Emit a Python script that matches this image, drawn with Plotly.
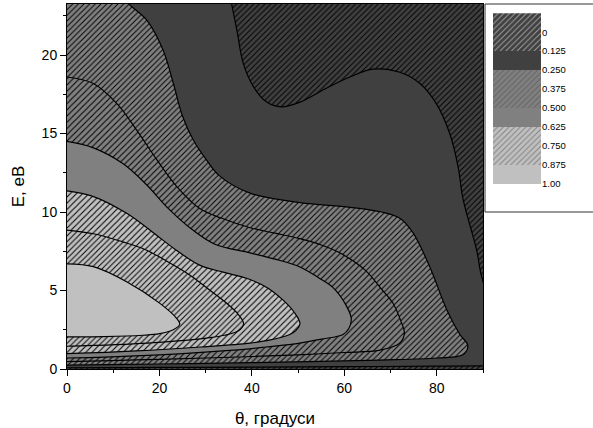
import plotly.graph_objects as go

# ---------------- data ----------------
X_RANGE = [0, 90]
Y_RANGE = [0, 23.25]
X_TICKS = [0, 20, 40, 60, 80]
Y_TICKS = [0, 5, 10, 15, 20]

LEGEND_LABELS = ["0", "0.125", "0.250", "0.375", "0.500", "0.625", "0.750", "0.875", "1.00"]

DARK, MID, LIGHT = "#404040", "#808080", "#c0c0c0"

# contour 0.125 : upper-right branch (from top edge to right edge)
c0125_top_theta = [35.2, 35.6, 36.8, 38.1, 40.3, 43.2, 46.4, 50.4, 56.2, 61.2, 66.2, 72.0, 76.3, 79.9, 82.8, 84.6, 85.7, 88.6, 89.7, 91.0]
c0125_top_E     = [24.0, 23.3, 21.5, 19.5, 18.0, 17.0, 16.7, 17.0, 17.9, 18.6, 19.1, 18.9, 18.2, 16.9, 15.0, 12.9, 10.8, 7.6, 5.9, 4.9]
# contour 0.125 : bottom branch (right to left)
c0125_bot_theta = [92, 80, 60, 40, 20, 0]
c0125_bot_E     = [0.20, 0.18, 0.15, 0.12, 0.10, 0.08]

c0250_theta = [11.5, 13.2, 17.3, 20.8, 23.0, 25.0, 27.3, 30.2, 33.0, 39.6, 50.4, 61.2, 68.0, 72.0, 74.8, 78.5, 82.2, 85.0, 86.7, 85.6, 80.0, 67.7, 40.0, 20.0, 0.0]
c0250_E     = [24.0, 23.3, 22.2, 20.3, 18.2, 16.1, 14.6, 13.3, 12.3, 11.2, 10.6, 10.3, 10.0, 9.6, 8.7, 6.5, 3.75, 2.2, 1.5, 0.9, 0.7, 0.57, 0.4, 0.32, 0.25]

c0375_theta = [0, 5.6, 10.8, 15.1, 19.5, 23.8, 28.8, 33.5, 39.6, 45, 50.4, 55, 59, 64.5, 68, 70.5, 72.3, 73.0, 72.0, 67.7, 60, 50, 30, 15, 0]
c0375_E     = [18.6, 18.2, 16.9, 15.2, 13.3, 11.6, 10.2, 9.6, 9.0, 8.65, 8.3, 7.9, 7.4, 6.3, 5.1, 4.2, 3.0, 2.3, 1.65, 1.2, 1.05, 0.9, 0.7, 0.58, 0.47]

c0500_theta = [0, 5.6, 12, 17, 22, 27, 32, 39.6, 45, 50.4, 54.5, 57.5, 60.3, 61.5, 61.0, 59.7, 55, 50.4, 43, 36, 20, 0]
c0500_E     = [14.5, 14.1, 13.1, 11.8, 10.2, 8.9, 7.95, 7.4, 7.0, 6.5, 5.8, 5.2, 4.1, 3.2, 2.6, 2.2, 1.9, 1.65, 1.4, 1.2, 0.9, 0.7]

c0625_theta = [0, 5.6, 13, 18.6, 23.5, 28.8, 34, 39.6, 43.5, 46.7, 49.2, 50.4, 49.5, 48.2, 44, 39.6, 28.8, 15, 0]
c0625_E     = [11.35, 11.0, 9.9, 8.7, 7.6, 6.6, 6.15, 5.7, 5.15, 4.4, 3.6, 2.9, 2.45, 2.2, 1.85, 1.65, 1.4, 1.15, 0.98]

c0750_theta = [0, 6, 12, 17, 22, 27, 31, 34.5, 37, 38.2, 37.2, 34, 31, 20, 6, 0]
c0750_E     = [8.85, 8.6, 8.1, 7.6, 6.8, 5.9, 5.0, 4.2, 3.5, 2.9, 2.45, 2.15, 2.0, 1.7, 1.5, 1.45]

c0875_theta = [0, 5.7, 12.9, 20.1, 23.7, 24.4, 23.0, 20.0, 16.4, 8, 0]
c0875_E     = [6.7, 6.52, 5.56, 4.18, 3.23, 2.85, 2.5, 2.25, 2.15, 2.06, 2.04]

# ---------------- styling ----------------
PAD = 5
FONT = "Arial, Liberation Sans, sans-serif"


def hatch(bg, size):
    return dict(shape="/", bgcolor=bg, fgcolor="black", size=size, solidity=0.24, fillmode="replace")


def closed_left(th, e):
    xs = list(th) + [X_RANGE[0] - PAD, X_RANGE[0] - PAD]
    ys = list(e) + [e[-1], e[0]]
    return xs, ys


fig = go.Figure()

# background band 0 - 0.125
bx = [X_RANGE[0] - PAD, X_RANGE[1] + PAD, X_RANGE[1] + PAD, X_RANGE[0] - PAD]
by = [Y_RANGE[0] - 1, Y_RANGE[0] - 1, Y_RANGE[1] + PAD, Y_RANGE[1] + PAD]
fig.add_trace(go.Scatter(x=bx, y=by, mode="lines", fill="toself", line=dict(width=0),
                         fillcolor=DARK, fillpattern=hatch(DARK, 4), hoverinfo="skip", showlegend=False))

# superlevel set z > 0.125
xs = list(c0125_top_theta) + [X_RANGE[1] + PAD, X_RANGE[1] + PAD] + list(c0125_bot_theta) + [X_RANGE[0] - PAD, X_RANGE[0] - PAD]
ys = list(c0125_top_E) + [c0125_top_E[-1] - 0.8, c0125_bot_E[0]] + list(c0125_bot_E) + [c0125_bot_E[-1], c0125_top_E[0]]
fig.add_trace(go.Scatter(x=xs, y=ys, mode="lines", fill="toself", fillcolor=DARK,
                         line=dict(color="black", width=1.2, shape="spline", smoothing=1),
                         hoverinfo="skip", showlegend=False))

bands = [
    (c0250_theta, c0250_E, MID, hatch(MID, 4)),
    (c0375_theta, c0375_E, MID, hatch(MID, 4.4)),
    (c0500_theta, c0500_E, MID, None),
    (c0625_theta, c0625_E, LIGHT, hatch(LIGHT, 4.4)),
    (c0750_theta, c0750_E, LIGHT, hatch(LIGHT, 4)),
    (c0875_theta, c0875_E, LIGHT, None),
]
for th, e, col, pat in bands:
    x, y = closed_left(th, e)
    kw = dict(fillpattern=pat) if pat else {}
    fig.add_trace(go.Scatter(x=x, y=y, mode="lines", fill="toself", fillcolor=col,
                             line=dict(color="black", width=1.2, shape="spline", smoothing=1),
                             hoverinfo="skip", showlegend=False, **kw))

# ---------------- legend (colour key) as stacked bars ----------------
key_colors = [DARK, DARK, DARK, MID, MID, MID, LIGHT, LIGHT, LIGHT]
key_shapes = ["/", "/", "", "/", "/", "", "/", "/", ""]
fig.add_trace(go.Bar(x=[0] * 9, y=[1] * 9, xaxis="x2", yaxis="y2", width=1,
                     marker=dict(color=key_colors, line=dict(width=0),
                                 pattern=dict(shape=key_shapes, fgcolor="black", size=4, solidity=0.24,
                                              fillmode="overlay")),
                     hoverinfo="skip", showlegend=False))

W, H = 593, 428
ML, MR, MT, MB = 67, 0, 4, 59
PW, PH = W - ML - MR, H - MT - MB
x_end = (483 - ML) / PW

axis_common = dict(showgrid=False, zeroline=False, showline=True, linecolor="black", linewidth=1,
                   mirror=True, ticks="outside", ticklen=6, tickwidth=1, tickcolor="black",
                   tickfont=dict(family=FONT, size=14, color="black"))

fig.update_layout(
    width=W, height=H, autosize=False,
    margin=dict(l=ML, r=MR, t=MT, b=MB),
    paper_bgcolor="white", plot_bgcolor="white",
    barmode="stack", bargap=0,
    showlegend=False,
    xaxis=dict(domain=[0, x_end], range=X_RANGE, tickvals=X_TICKS,
               minor=dict(ticks="outside", ticklen=3, tick0=0, dtick=10, tickcolor="black"),
               title=dict(text="θ, градуси", font=dict(family=FONT, size=17, color="black"), standoff=18),
               **axis_common),
    yaxis=dict(domain=[0, 1], range=Y_RANGE, tickvals=Y_TICKS,
               minor=dict(ticks="outside", ticklen=3, tick0=0, dtick=2.5, tickcolor="black"),
               title=dict(text="E, eB", font=dict(family=FONT, size=17, color="black"), standoff=12),
               **axis_common),
    xaxis2=dict(domain=[(492.7 - ML) / PW, (541 - ML) / PW], anchor="y2", range=[-0.5, 0.5],
                visible=False, fixedrange=True),
    yaxis2=dict(domain=[(369 - 184) / PH, (369 - 13.2) / PH], anchor="x2", range=[9, 0],
                side="right", tickvals=list(range(1, 10)), ticktext=LEGEND_LABELS,
                showgrid=False, zeroline=False, showline=False, ticks="",
                tickfont=dict(family=FONT, size=9.5, color="black")),
    shapes=[dict(type="rect", xref="paper", yref="paper",
                 x0=(485 - ML) / PW, x1=1.02, y0=(369 - 212) / PH, y1=1.0,
                 line=dict(color="#333333", width=1), fillcolor="rgba(0,0,0,0)", layer="above")],
)

fig.write_html("out.html")
